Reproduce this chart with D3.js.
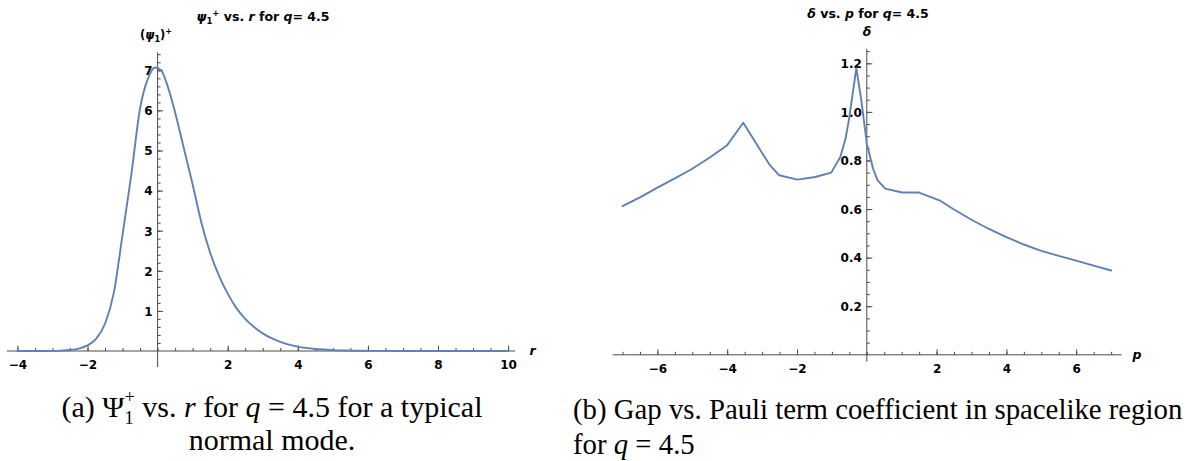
<!DOCTYPE html>
<html>
<head>
<meta charset="utf-8">
<script src="https://cdn.jsdelivr.net/npm/d3@7/dist/d3.min.js"></script>
<style>
  html, body { margin: 0; padding: 0; background: #fff; }
  svg { display: block; }
</style>
</head>
<body>
<svg id="chart" width="1195" height="461"></svg>
<script>
// ---------- Data ----------
// Panel (a): psi_1^+ vs r
const rVals = [-4, -3.5, -3, -2.75, -2.5, -2.25, -2, -1.75, -1.5, -1.25, -1, -0.75, -0.5, -0.25, -0.07,
               0.1, 0.25, 0.5, 0.75, 1, 1.25, 1.5, 1.75, 2, 2.25, 2.5, 2.75, 3, 3.25, 3.5, 3.75, 4,
               4.5, 5, 5.5, 6, 7, 8, 9, 10];
const psiVals = [0, 0.001, 0.003, 0.009, 0.025, 0.06, 0.14, 0.31, 0.68, 1.45, 2.9, 4.4, 6.05, 6.85, 7.07,
                 7.0, 6.7, 5.95, 5.05, 4.15, 3.2, 2.45, 1.88, 1.43, 1.07, 0.8, 0.6, 0.44, 0.32, 0.23, 0.16, 0.11,
                 0.05, 0.022, 0.01, 0.004, 0.001, 0, 0, 0];
// Panel (b): delta vs p
const pVals = [-7, -6.5, -6, -5.5, -5, -4.5, -4, -3.54, -2.79, -2.51, -1.99, -1.48, -1.02, -0.76, -0.61, -0.5,
               -0.3, -0.155, 0, 0.18, 0.31, 0.53, 1.01, 1.5, 2.08, 2.5, 3, 3.5, 4, 4.5, 5, 5.5, 6, 6.5, 7];
const deltaVals = [0.612, 0.648, 0.688, 0.726, 0.766, 0.812, 0.863, 0.955, 0.783, 0.739, 0.721, 0.732, 0.75, 0.814, 0.889, 0.978,
                   1.18, 1.046, 0.87, 0.766, 0.718, 0.684, 0.668, 0.668, 0.636, 0.598, 0.556, 0.518, 0.484, 0.454, 0.428, 0.407, 0.388, 0.367, 0.347];

// Tick labels
const aXTicks = [-4, -2, 2, 4, 6, 8, 10];
const aYTicks = [1, 2, 3, 4, 5, 6, 7];
const bXTicks = [-6, -4, -2, 2, 4, 6];
const bYTicks = [0.2, 0.4, 0.6, 0.8, 1.0, 1.2];

// ---------- Drawing ----------
const svg = d3.select("#chart");
svg.append("rect").attr("width", 1195).attr("height", 461).attr("fill", "#fff");

const LINE = "#5E81B5";
const AXIS = "#4a4a4a";
const SANS = "'DejaVu Sans', 'Liberation Sans', Arial, sans-serif";
const SERIF = "'Liberation Serif', 'Times New Roman', serif";

function panel(o) {
  const g = svg.append("g");
  const x = d3.scaleLinear().domain(o.xDom).range(o.xRange);
  const y = d3.scaleLinear().domain(o.yDom).range(o.yRange);
  const x0 = x(0), y0 = y(0);

  // minor ticks
  const xMinor = d3.axisBottom(x).tickValues(o.xMinor).tickSize(-3).tickFormat("");
  const yMinor = d3.axisLeft(y).tickValues(o.yMinor).tickSize(-3).tickFormat("");
  const gxm = g.append("g").attr("transform", `translate(0,${y0})`).call(xMinor);
  const gym = g.append("g").attr("transform", `translate(${x0},0)`).call(yMinor);
  [gxm, gym].forEach(s => { s.select(".domain").remove(); s.selectAll("line").attr("stroke", AXIS); });

  // major ticks + labels
  const xMajor = d3.axisBottom(x).tickValues(o.xTicks).tickSize(-5.5).tickPadding(10).tickFormat(o.xFmt);
  const yMajor = d3.axisLeft(y).tickValues(o.yTicks).tickSize(-5.5).tickPadding(5).tickFormat(o.yFmt);
  const gx = g.append("g").attr("transform", `translate(0,${y0})`).call(xMajor);
  const gy = g.append("g").attr("transform", `translate(${x0},0)`).call(yMajor);
  [gx, gy].forEach(s => {
    s.select(".domain").remove();
    s.selectAll("line").attr("stroke", AXIS);
    s.selectAll("text").attr("fill", "#000").attr("font-family", SANS)
      .attr("font-weight", "bold").attr("font-size", 12);
  });
  gx.selectAll("text").attr("dy", "0.68em");
  gy.selectAll("text").attr("dy", "0.36em");

  // axis lines
  g.append("line").attr("x1", x(o.xExt[0])).attr("x2", x(o.xExt[1]))
    .attr("y1", y0).attr("y2", y0).attr("stroke", AXIS).attr("stroke-width", 1);
  g.append("line").attr("x1", x0).attr("x2", x0)
    .attr("y1", y(o.yExt[1])).attr("y2", y(o.yExt[0])).attr("stroke", AXIS).attr("stroke-width", 1);

  // curve
  const pts = o.xs.map((v, i) => [v, o.ys[i]]);
  g.append("path").datum(pts)
    .attr("fill", "none").attr("stroke", LINE).attr("stroke-width", 1.9)
    .attr("stroke-linejoin", "round").attr("stroke-linecap", "round")
    .attr("d", d3.line().x(d => x(d[0])).y(d => y(d[1])).curve(o.curve));
  return { g, x, y };
}

const fmtInt = d => d3.format("d")(d);
const fmt1 = d => d3.format(".1f")(d);

panel({
  xDom: [-4, 10], xRange: [17.4, 508.1],
  yDom: [0, 7], yRange: [351, 70.3],
  xExt: [-4.3, 10.2], yExt: [-0.4, 7.45],
  xTicks: aXTicks, yTicks: aYTicks,
  xMinor: d3.range(-4, 10.001, 0.5), yMinor: d3.range(0.2, 7.45, 0.2),
  xFmt: fmtInt, yFmt: fmtInt,
  xs: rVals, ys: psiVals, curve: d3.curveMonotoneX
});

panel({
  xDom: [-6, 6], xRange: [657.4, 1076.2],
  yDom: [0, 1.2], yRange: [354.8, 63.3],
  xExt: [-7.28, 7.3], yExt: [-0.028, 1.26],
  xTicks: bXTicks, yTicks: bYTicks,
  xMinor: d3.range(-7, 7.001, 0.5), yMinor: d3.range(0.05, 1.255, 0.05),
  xFmt: fmtInt, yFmt: fmt1,
  xs: pVals, ys: deltaVals, curve: d3.curveLinear
});

// ---------- Titles and axis labels ----------
function boldText(x, y, size, anchor) {
  return svg.append("text").attr("x", x).attr("y", y).attr("font-family", SANS)
    .attr("font-weight", "bold").attr("font-size", size).attr("text-anchor", anchor || "middle").attr("fill", "#000");
}
// Title (a)
{
  const t = boldText(263, 21.3, 12.5);
  t.append("tspan").attr("font-style", "italic").text("ψ");
  t.append("tspan").attr("font-size", 8.5).attr("dy", 3).text("1");
  t.append("tspan").attr("font-size", 8.5).attr("dy", -8).text("+");
  t.append("tspan").attr("dy", 5).text(" vs. ");
  t.append("tspan").attr("font-style", "italic").text("r");
  t.append("tspan").text(" for ");
  t.append("tspan").attr("font-style", "italic").text("q");
  t.append("tspan").text("=\u00A04.5");
}
// y label (a)
{
  const t = boldText(156, 39, 11.5);
  t.append("tspan").text("(");
  t.append("tspan").attr("font-style", "italic").text("ψ");
  t.append("tspan").attr("font-size", 8).attr("dy", 3).text("1");
  t.append("tspan").attr("dy", -3).text(")");
  t.append("tspan").attr("font-size", 8).attr("dy", -5).text("+");
}
// x label (a)
boldText(532.5, 355, 12.5).attr("font-style", "italic").text("r");

// Title (b)
{
  const t = boldText(868, 18.3, 12.5);
  t.append("tspan").attr("font-style", "italic").text("δ");
  t.append("tspan").text(" vs. ");
  t.append("tspan").attr("font-style", "italic").text("p");
  t.append("tspan").text(" for ");
  t.append("tspan").attr("font-style", "italic").text("q");
  t.append("tspan").text("=\u00A04.5");
}
boldText(867, 36, 12.5).attr("font-style", "italic").text("δ");
boldText(1137, 359, 12.5).attr("font-style", "italic").text("p");

// ---------- Captions ----------
function capText(x, y, anchor, size) {
  return svg.append("text").attr("x", x).attr("y", y).attr("font-family", SERIF)
    .attr("font-size", size).attr("text-anchor", anchor).attr("fill", "#000");
}
function buildA(size) {
  const k = size / 27;
  const t = capText(272, 417, "middle", size);
  t.append("tspan").text("(a) Ψ");
  t.append("tspan").attr("font-size", 16.5 * k).attr("dy", 7).text("1");
  t.append("tspan").attr("font-size", 16.5 * k).attr("dx", -8.3 * k).attr("dy", -21).text("+");
  t.append("tspan").attr("dy", 14).text(" vs. ");
  t.append("tspan").attr("font-style", "italic").text("r");
  t.append("tspan").text(" for ");
  t.append("tspan").attr("font-style", "italic").text("q");
  t.append("tspan").text(" = 4.5 for a typical");
  return t;
}
{
  let t = buildA(27);
  const w = t.node().getBBox().width;
  t.remove();
  const sA = Math.min(30, 27 * 430 / w);
  buildA(sA);
  capText(272, 450, "middle", sA).text("normal mode.");
}
{
  let t1 = capText(573, 419, "start", 27).text("(b) Gap vs. Pauli term coefficient in spacelike region");
  const w = t1.node().getBBox().width;
  const sB = Math.min(30, 27 * 610 / w);
  t1.attr("font-size", sB);
  const t = capText(573, 454, "start", sB);
  t.append("tspan").text("for ");
  t.append("tspan").attr("font-style", "italic").text("q");
  t.append("tspan").text(" = 4.5");
}
</script>
</body>
</html>
